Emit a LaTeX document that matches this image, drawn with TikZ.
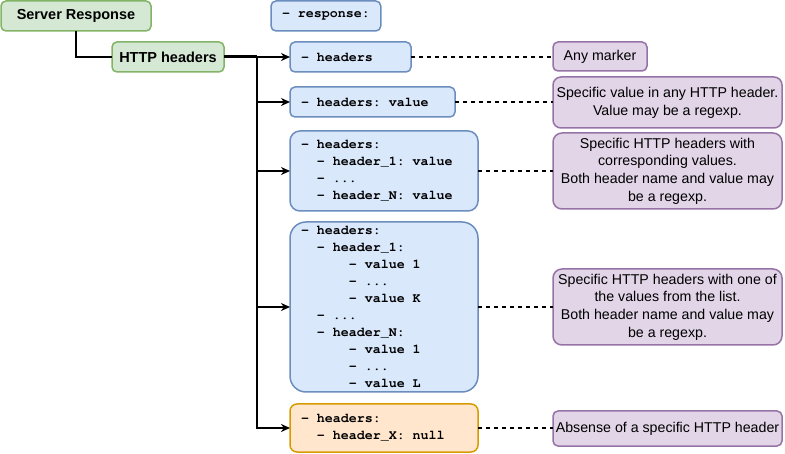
\documentclass[tikz,border=0pt]{standalone}
\usepackage{fontspec}
\setmainfont{Liberation Sans}
\setmonofont{TeX Gyre Cursor}
\usetikzlibrary{arrows.meta}
\definecolor{gfill}{HTML}{D5E8D4}\definecolor{gline}{HTML}{82B366}
\definecolor{bfill}{HTML}{DAE8FC}\definecolor{bline}{HTML}{6C8EBF}
\definecolor{ofill}{HTML}{FFE6CC}\definecolor{oline}{HTML}{D79B00}
\definecolor{pfill}{HTML}{E1D5E7}\definecolor{pline}{HTML}{9673A6}
\newcommand\cs{\hphantom{x}}
\begin{document}
\begin{tikzpicture}[x=1pt,y=-1pt,
  base/.style={draw, line width=1.5pt, rounded corners=5pt, anchor=north west, inner sep=0pt, outer sep=0pt},
  grn/.style={base, fill=gfill, draw=gline, font=\bfseries\fontsize{14.5}{16}\selectfont, align=center},
  code/.style={base, fill=bfill, draw=bline, font=\ttfamily\bfseries\fontsize{13.3}{16.9}\selectfont, align=left, inner xsep=11pt},
  codeo/.style={code, fill=ofill, draw=oline},
  note/.style={base, fill=pfill, draw=pline, font=\fontsize{14.2}{17.7}\selectfont, align=center},
  conn/.style={line width=1.5pt},
  arr/.style={line width=1.5pt, -{Stealth[length=9pt,width=8pt]}},
  dsh/.style={line width=1.3pt, dash pattern=on 4pt off 4pt}]
\useasboundingbox (0,0) rectangle (785,454);

\node[grn, minimum width=150, minimum height=30] (sr) at (1,1) {Server Response};
\node[grn, minimum width=112, minimum height=30] (hh) at (112,42) {HTTP headers};

\node[code, align=center, minimum width=101, minimum height=30] (resp) at (271,1) {-\cs response:};
\node[code, text width=121-22, minimum height=30] (c1) at (290,42) {-\cs headers};
\node[code, text width=165-22, minimum height=30] (c2) at (290,87) {-\cs headers:\cs value};
\node[code, rounded corners=10pt, text width=188-22, minimum height=80] (c3) at (290,131)
  {-\cs headers:\\\cs\cs -\cs header\_1:\cs value\\\cs\cs -\cs ...\\\cs\cs -\cs header\_N:\cs value};
\node[code, rounded corners=16pt, text width=188-22, minimum height=170] (c4) at (290,222)
  {-\cs headers:\\\cs\cs -\cs header\_1:\\\cs\cs\cs\cs\cs\cs -\cs value\cs 1\\\cs\cs\cs\cs\cs\cs -\cs ...\\\cs\cs\cs\cs\cs\cs -\cs value\cs K\\
   \cs\cs -\cs ...\\\cs\cs -\cs header\_N:\\\cs\cs\cs\cs\cs\cs -\cs value\cs 1\\\cs\cs\cs\cs\cs\cs -\cs ...\\\cs\cs\cs\cs\cs\cs -\cs value\cs L};
\node[codeo, rounded corners=7pt, text width=188-22, minimum height=48] (c5) at (290,404)
  {-\cs headers:\\\cs\cs -\cs header\_X:\cs null};

\node[note, minimum width=94, minimum height=29] (n1) at (553,42) {Any marker};
\node[note, rounded corners=8pt, minimum width=229, minimum height=51] (n2) at (553,77) {Specific value in any HTTP header.\\Value may be a regexp.};
\node[note, rounded corners=9pt, minimum width=229, minimum height=76] (n3) at (553,133) {Specific HTTP headers with\\corresponding values.\\Both header name and value may\\be a regexp.};
\node[note, rounded corners=9pt, minimum width=229, minimum height=76] (n4) at (553,269) {Specific HTTP headers with one of\\the values from the list.\\Both header name and value may\\be a regexp.};
\node[note, minimum width=229, minimum height=35] (n5) at (553,411) {Absense of a specific HTTP header};

\draw[conn] (sr.south) |- (hh.west);
\coordinate (j) at (257,57);
\draw[line width=3pt] (hh.east) -- (j);
\draw[arr] (j) -- (c1.west);
\draw[arr] (j) |- (c2.west);
\draw[arr] (j) |- (c3.west);
\draw[arr] (j) |- (c4.west);
\draw[arr] (j) |- (c5.west);

\draw[dsh] (c1.east) -- (c1.east -| n1.west);
\draw[dsh] (c2.east) -- (c2.east -| n2.west);
\draw[dsh] (c3.east) -- (c3.east -| n3.west);
\draw[dsh] (c4.east) -- (c4.east -| n4.west);
\draw[dsh] (c5.east) -- (c5.east -| n5.west);
\end{tikzpicture}
\end{document}
